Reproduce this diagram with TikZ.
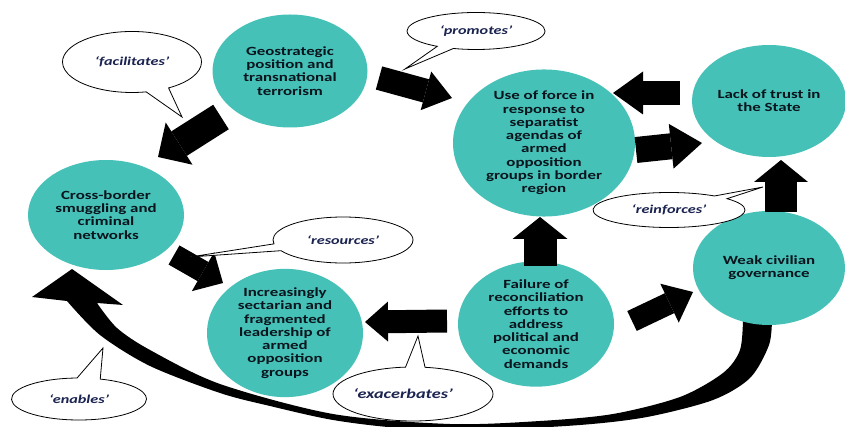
\documentclass[tikz,border=0pt]{standalone}
\usepackage{fontspec}
\setmainfont{Carlito}[FakeStretch=1.35]
\usetikzlibrary{shapes.geometric,shapes.callouts,arrows.meta}
\definecolor{tealfill}{HTML}{45C1B8}
\definecolor{circtext}{HTML}{0A141C}
\definecolor{saytext}{HTML}{1B2350}
\tikzset{
  bubble/.style={ellipse, fill=tealfill, inner sep=0pt, align=center,
    font=\bfseries\fontsize{12.5}{13.3}\selectfont, text=circtext},
  say/.style={ellipse callout, draw=black, line width=0.8pt, fill=white, inner sep=0pt,
    font=\bfseries\itshape\fontsize{12}{14}\selectfont, text=saytext},
  blkarrow/.style n args={3}{draw=black, line width=#1,
    -{Triangle[length=#2, width=#3, line width=0pt]}},
}
\begin{document}
\begin{tikzpicture}[x=1pt,y=-1pt]
\useasboundingbox (0,0) rectangle (845,427);
\fill[white] (0,0) rectangle (845,427);

% curved arrow (weak -> cross-border), drawn first
\fill[black] (772,318) -- plot[smooth] coordinates {(772,318)(769,345)(750,378)(713,400)(647,417)(580,425)(480,430)(400,428)(333,420)(270,406)(220,393)(150,366)(100,335)(67,301)}
  -- (32,297) -- (72,269) -- (123,305) -- (97,303)
  -- plot[smooth] coordinates {(97,303)(117,328)(150,350)(220,384)(333,414)(450,424)(540,421)(613,414)(680,397)(723,373)(740,350)(743,318)} -- cycle;

% circles
\node[bubble, minimum width=155pt, minimum height=113pt] (geo) at (290,71)
  {Geostrategic\\position and\\transnational\\terrorism};
\node[bubble, minimum width=156pt, minimum height=110pt] (cross) at (106,215)
  {Cross-border\\smuggling and\\criminal\\networks};
\node[bubble, minimum width=182pt, minimum height=146pt] (force) at (544,143)
  {Use of force in\\response to\\separatist\\agendas of\\armed\\opposition\\groups in border\\region};
\node[bubble, minimum width=154pt, minimum height=112pt] (trust) at (769,101)
  {Lack of trust in\\the State};
\node[bubble, minimum width=152pt, minimum height=114pt] (weak) at (769,268)
  {Weak civilian\\governance};
\node[bubble, minimum width=156pt, minimum height=112pt] (fail) at (536,324)
  {Failure of\\reconciliation\\efforts to\\address\\political and\\economic\\demands};
\node[bubble, minimum width=156pt, minimum height=104pt] (sect) at (285,333)
  {Increasingly\\sectarian and\\fragmented\\leadership of\\armed\\opposition\\groups};

% block arrow end points
\coordinate (a1s) at (221,117); \coordinate (a1e) at (158,157);
\coordinate (a2s) at (379,78);  \coordinate (a2e) at (452,98);
\coordinate (a3s) at (680,93);  \coordinate (a3e) at (613,93);
\coordinate (a4s) at (636,150); \coordinate (a4e) at (702,143);
\coordinate (a5s) at (781,212); \coordinate (a5e) at (781,160);
\coordinate (a6s) at (540,266); \coordinate (a6e) at (540,217);
\coordinate (a7s) at (632,321); \coordinate (a7e) at (693,292);
\coordinate (a8s) at (447,321); \coordinate (a8e) at (365,322);
\coordinate (a9s) at (174,255); \coordinate (a9e) at (223,283);

\draw[blkarrow={29pt}{25pt}{50pt}] (a1s) -- (a1e);
\draw[blkarrow={24pt}{27pt}{40pt}] (a2s) -- (a2e);
\draw[blkarrow={24pt}{30pt}{43pt}] (a3s) -- (a3e);
\draw[blkarrow={26pt}{31pt}{45pt}] (a4s) -- (a4e);
\draw[blkarrow={32pt}{22pt}{54pt}] (a5s) -- (a5e);
\draw[blkarrow={33pt}{22pt}{55pt}] (a6s) -- (a6e);
\draw[blkarrow={22pt}{26pt}{43pt}] (a7s) -- (a7e);
\draw[blkarrow={23pt}{23pt}{40pt}] (a8s) -- (a8e);
\draw[blkarrow={22pt}{23pt}{45pt}] (a9s) -- (a9e);

% callouts
\node[say, minimum width=139pt, minimum height=61pt, callout absolute pointer={(182,117)}, callout pointer arc=20] (cfac) at (132,62) {‘facilitates’};
\node[say, minimum width=138pt, minimum height=37pt, callout absolute pointer={(405,69)}, callout pointer arc=15] (cpro) at (476,31) {‘promotes’};
\node[say, minimum width=140pt, minimum height=46pt, callout absolute pointer={(190,257)}, callout pointer arc=18] (cres) at (343,240) {‘resources’};
\node[say, minimum width=135pt, minimum height=42pt, callout absolute pointer={(103,348)}, callout pointer arc=20] (cena) at (79,399) {‘enables’};
\node[say, minimum width=160pt, minimum height=54pt, callout absolute pointer={(418,336)}, callout pointer arc=14, font=\bfseries\itshape\fontsize{13.5}{15}\selectfont] (cexa) at (413,394) {\hspace*{-20pt}‘exacerbates’};
\node[say, minimum width=152pt, minimum height=35pt, callout absolute pointer={(763,187)}, callout pointer arc=13] (crei) at (669,210) {‘reinforces’};
\end{tikzpicture}
\end{document}
